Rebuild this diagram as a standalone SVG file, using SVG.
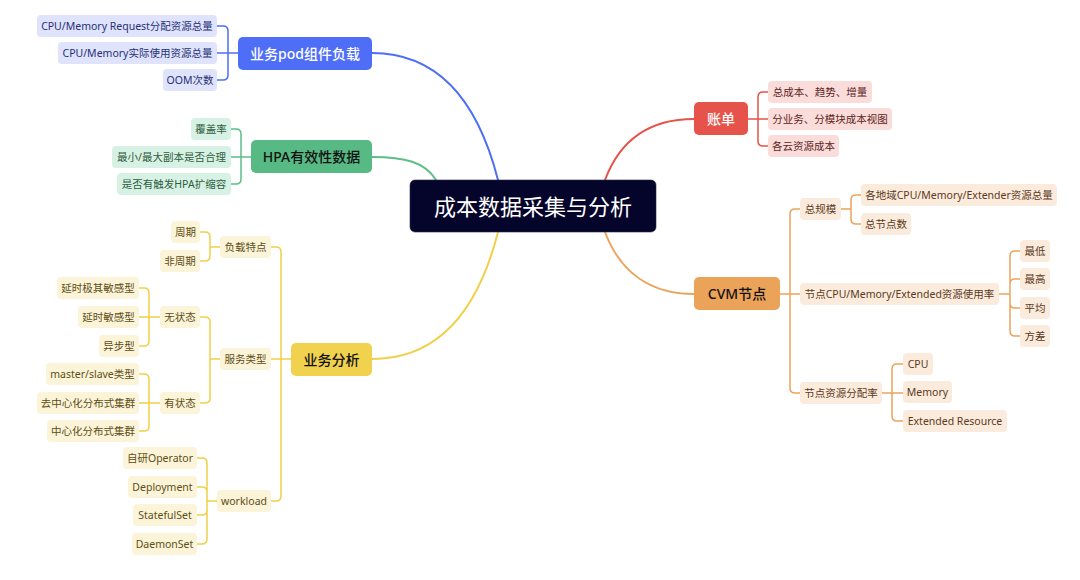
<svg xmlns="http://www.w3.org/2000/svg" width="1080" height="580" viewBox="0 0 1080 580">
<style>
text{font-family:"Noto Sans","Noto Sans CJK SC",sans-serif;text-anchor:middle;dominant-baseline:central}
.leaf{font-size:10.5px}
.main{font-size:14px;font-weight:500}
.title{font-size:22px;fill:#ffffff}
.c{fill:none;stroke-linecap:round;stroke-linejoin:round}
.b{stroke:#4f6ef7}.g{stroke:#5bbf86}.y{stroke:#f0d04a}.r{stroke:#e5534b}.o{stroke:#eca45c}
.br{stroke-width:1.5}.mc{stroke-width:2}
.lb rect{fill:#dfe3fc}.lb text{fill:#273076}
.lg rect{fill:#d7f2e4}.lg text{fill:#2e5c40}
.ly rect{fill:#fbf4d8}.ly text{fill:#5e4d16}
.lr rect{fill:#fadcda}.lr text{fill:#5c1f1c}
.lo rect{fill:#fbebdc}.lo text{fill:#5c3a1c}
</style>
<rect width="1080" height="580" fill="#ffffff"/>
<g id="connectors">
<path class="c mc b" d="M498,180 C475,90 430,53 372,53"/>
<path class="c mc g" d="M436,180 C425,162 405,157 372,157"/>
<path class="c mc y" d="M498,232 C475,322 430,359 372,359"/>
<path class="c mc r" d="M605,180 C620,140 650,119 694,119"/>
<path class="c mc o" d="M605,232 C620,272 650,294 694,294"/>
<path class="c br b" d="M217,26 H223 Q228,26 228,31 V75 Q228,80 223,80 H217 M217,53 H238"/>
<path class="c br g" d="M231,129 H236 Q241,129 241,134 V179 Q241,184 236,184 H231 M231,157 H251"/>
<path class="c br y" d="M200,232 H205 Q210,232 210,237 V256 Q210,261 205,261 H200 M210,247 H220"/>
<path class="c br y" d="M139,288 H144 Q149,288 149,293 V341 Q149,346 144,346 H139 M139,317 H160"/>
<path class="c br y" d="M139,374 H144 Q149,374 149,379 V426 Q149,431 144,431 H139 M139,403 H160"/>
<path class="c br y" d="M200,317 H205 Q210,317 210,322 V398 Q210,403 205,403 H200 M210,359 H220"/>
<path class="c br y" d="M197,458 H202 Q207,458 207,463 V539 Q207,544 202,544 H197 M197,487 H202 Q207,487 207,492 M197,515 H202 Q207,515 207,510 M207,501 H217"/>
<path class="c br y" d="M271,247 H276 Q281,247 281,252 V496 Q281,501 276,501 H271 M271,359 H291"/>
<path class="c br r" d="M768,92 H763 Q758,92 758,97 V141 Q758,146 763,146 H768 M748,119 H768"/>
<path class="c br o" d="M800,209 H795 Q790,209 790,214 V388 Q790,393 795,393 H800 M780,294 H800"/>
<path class="c br o" d="M861,195 H856 Q851,195 851,200 V219 Q851,224 856,224 H861 M841,209 H851"/>
<path class="c br o" d="M1020,251 H1015 Q1010,251 1010,256 V331 Q1010,336 1015,336 H1020 M1020,279 H1015 Q1010,279 1010,284 M1020,308 H1015 Q1010,308 1010,303 M999,294 H1010"/>
<path class="c br o" d="M903,364 H897 Q892,364 892,369 V416 Q892,421 897,421 H903 M882,393 H903"/>
</g>
<g id="root">
<rect x="410" y="180" width="246" height="52" rx="5" fill="#05052b" stroke="#2a2a4a" stroke-width="0.6"/>
<text class="title" x="533" y="206">成本数据采集与分析</text>
</g>
<g id="pod">
<rect x="238" y="37" width="134" height="33" rx="5" fill="#4f6ef7"/>
<text class="main" x="305" y="53.5" fill="#ffffff">业务pod组件负载</text>
</g>
<g id="pod-1" class="lb"><rect x="37" y="15" width="180" height="22" rx="4"/><text class="leaf" x="127" y="26">CPU/Memory Request分配资源总量</text></g>
<g id="pod-2" class="lb"><rect x="58" y="42" width="159" height="22" rx="4"/><text class="leaf" x="137.5" y="53">CPU/Memory实际使用资源总量</text></g>
<g id="pod-3" class="lb"><rect x="163" y="69" width="54" height="22" rx="4"/><text class="leaf" x="190" y="80">OOM次数</text></g>
<g id="hpa">
<rect x="251" y="140" width="121" height="33" rx="5" fill="#57b983"/>
<text class="main" x="311.5" y="156.5" fill="#111111">HPA有效性数据</text>
</g>
<g id="hpa-1" class="lg"><rect x="191" y="118" width="40" height="22" rx="4"/><text class="leaf" x="211" y="129">覆盖率</text></g>
<g id="hpa-2" class="lg"><rect x="112" y="146" width="119" height="22" rx="4"/><text class="leaf" x="171.5" y="157">最小/最大副本是否合理</text></g>
<g id="hpa-3" class="lg"><rect x="117" y="173" width="114" height="22" rx="4"/><text class="leaf" x="174" y="184">是否有触发HPA扩缩容</text></g>
<g id="biz">
<rect x="291" y="343" width="81" height="33" rx="5" fill="#f0d24e"/>
<text class="main" x="331.5" y="359.5" fill="#111111">业务分析</text>
</g>
<g id="biz-load" class="ly"><rect x="220" y="236" width="51" height="22" rx="4"/><text class="leaf" x="245.5" y="247">负载特点</text></g>
<g id="biz-load-1" class="ly"><rect x="171" y="221" width="29" height="22" rx="4"/><text class="leaf" x="185.5" y="232">周期</text></g>
<g id="biz-load-2" class="ly"><rect x="160" y="250" width="40" height="22" rx="4"/><text class="leaf" x="180" y="261">非周期</text></g>
<g id="biz-svc" class="ly"><rect x="220" y="348" width="51" height="22" rx="4"/><text class="leaf" x="245.5" y="359">服务类型</text></g>
<g id="biz-stateless" class="ly"><rect x="160" y="306" width="40" height="22" rx="4"/><text class="leaf" x="180" y="317">无状态</text></g>
<g id="biz-sl-1" class="ly"><rect x="57" y="277" width="82" height="22" rx="4"/><text class="leaf" x="98" y="288">延时极其敏感型</text></g>
<g id="biz-sl-2" class="ly"><rect x="78" y="306" width="61" height="22" rx="4"/><text class="leaf" x="108.5" y="317">延时敏感型</text></g>
<g id="biz-sl-3" class="ly"><rect x="99" y="335" width="40" height="22" rx="4"/><text class="leaf" x="119" y="346">异步型</text></g>
<g id="biz-stateful" class="ly"><rect x="160" y="392" width="40" height="22" rx="4"/><text class="leaf" x="180" y="403">有状态</text></g>
<g id="biz-sf-1" class="ly"><rect x="46" y="363" width="93" height="22" rx="4"/><text class="leaf" x="92.5" y="374">master/slave类型</text></g>
<g id="biz-sf-2" class="ly"><rect x="37" y="392" width="102" height="22" rx="4"/><text class="leaf" x="88" y="403">去中心化分布式集群</text></g>
<g id="biz-sf-3" class="ly"><rect x="47" y="420" width="92" height="22" rx="4"/><text class="leaf" x="93" y="431">中心化分布式集群</text></g>
<g id="biz-wl" class="ly"><rect x="217" y="490" width="54" height="22" rx="4"/><text class="leaf" x="244" y="501">workload</text></g>
<g id="biz-wl-1" class="ly"><rect x="123" y="447" width="74" height="22" rx="4"/><text class="leaf" x="160" y="458">自研Operator</text></g>
<g id="biz-wl-2" class="ly"><rect x="128" y="476" width="69" height="22" rx="4"/><text class="leaf" x="162.5" y="487">Deployment</text></g>
<g id="biz-wl-3" class="ly"><rect x="133" y="504" width="64" height="22" rx="4"/><text class="leaf" x="165" y="515">StatefulSet</text></g>
<g id="biz-wl-4" class="ly"><rect x="132" y="533" width="65" height="22" rx="4"/><text class="leaf" x="164.5" y="544">DaemonSet</text></g>
<g id="bill">
<rect x="694" y="102" width="54" height="33" rx="5" fill="#e5534b"/>
<text class="main" x="721" y="118.5" fill="#ffffff">账单</text>
</g>
<g id="bill-1" class="lr"><rect x="768" y="81" width="104" height="22" rx="4"/><text class="leaf" x="820" y="92">总成本、趋势、增量</text></g>
<g id="bill-2" class="lr"><rect x="768" y="108" width="124" height="22" rx="4"/><text class="leaf" x="830" y="119">分业务、分模块成本视图</text></g>
<g id="bill-3" class="lr"><rect x="768" y="135" width="71" height="22" rx="4"/><text class="leaf" x="803.5" y="146">各云资源成本</text></g>
<g id="cvm">
<rect x="694" y="277" width="86" height="33" rx="5" fill="#eba35a"/>
<text class="main" x="737" y="293.5" fill="#111111">CVM节点</text>
</g>
<g id="cvm-scale" class="lo"><rect x="800" y="198" width="41" height="22" rx="4"/><text class="leaf" x="820.5" y="209">总规模</text></g>
<g id="cvm-scale-1" class="lo"><rect x="861" y="184" width="196" height="22" rx="4"/><text class="leaf" x="959" y="195">各地域CPU/Memory/Extender资源总量</text></g>
<g id="cvm-scale-2" class="lo"><rect x="861" y="213" width="50" height="22" rx="4"/><text class="leaf" x="886" y="224">总节点数</text></g>
<g id="cvm-usage" class="lo"><rect x="800" y="283" width="199" height="22" rx="4"/><text class="leaf" x="899.5" y="294">节点CPU/Memory/Extended资源使用率</text></g>
<g id="cvm-usage-1" class="lo"><rect x="1020" y="240" width="30" height="22" rx="4"/><text class="leaf" x="1035" y="251">最低</text></g>
<g id="cvm-usage-2" class="lo"><rect x="1020" y="268" width="30" height="22" rx="4"/><text class="leaf" x="1035" y="279">最高</text></g>
<g id="cvm-usage-3" class="lo"><rect x="1020" y="297" width="30" height="22" rx="4"/><text class="leaf" x="1035" y="308">平均</text></g>
<g id="cvm-usage-4" class="lo"><rect x="1020" y="325" width="30" height="22" rx="4"/><text class="leaf" x="1035" y="336">方差</text></g>
<g id="cvm-alloc" class="lo"><rect x="800" y="382" width="82" height="22" rx="4"/><text class="leaf" x="841" y="393">节点资源分配率</text></g>
<g id="cvm-alloc-1" class="lo"><rect x="903" y="353" width="30" height="22" rx="4"/><text class="leaf" x="918" y="364">CPU</text></g>
<g id="cvm-alloc-2" class="lo"><rect x="903" y="381" width="49" height="22" rx="4"/><text class="leaf" x="927.5" y="392">Memory</text></g>
<g id="cvm-alloc-3" class="lo"><rect x="903" y="410" width="104" height="22" rx="4"/><text class="leaf" x="955" y="421">Extended Resource</text></g>
</svg>
